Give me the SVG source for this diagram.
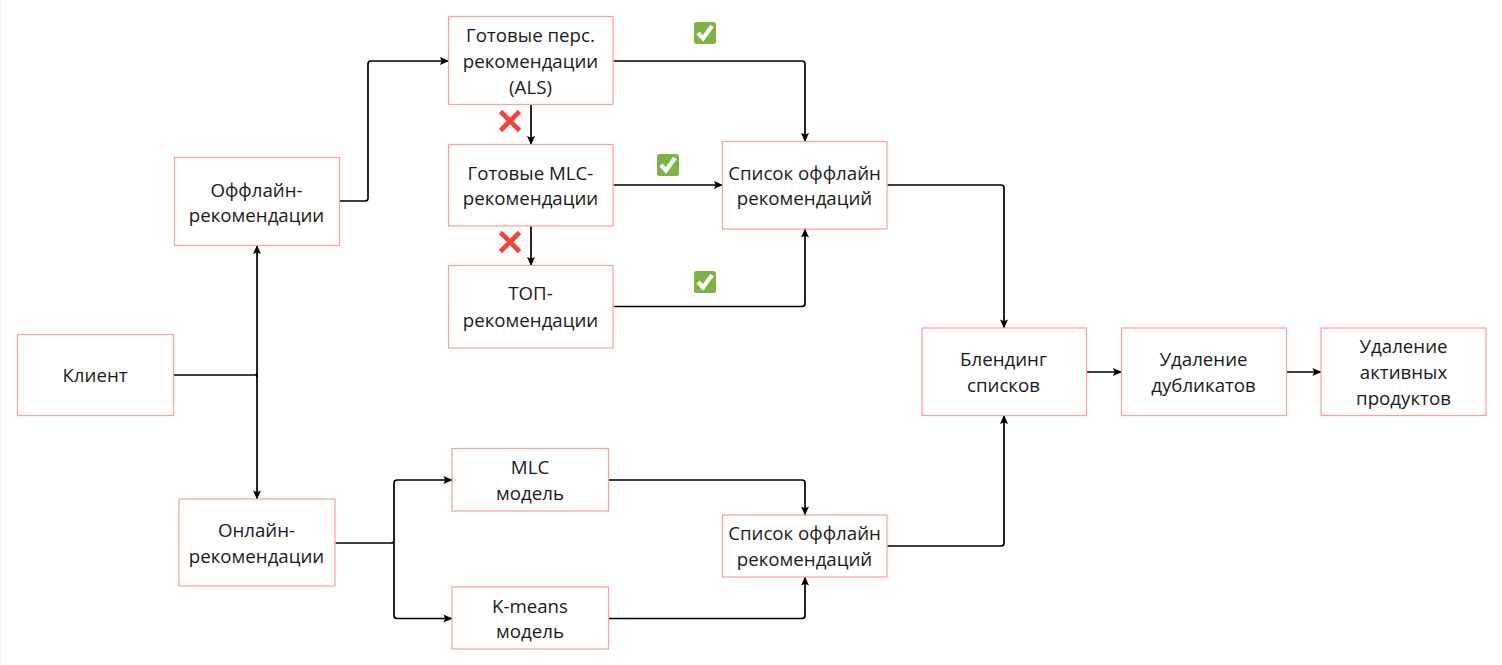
<svg xmlns="http://www.w3.org/2000/svg" width="1502" height="665" viewBox="0 0 1502 665">
<style>
.b{fill:#fff;stroke:#ff9c9c;stroke-width:1.2}
.t{font-family:"Open Sans",sans-serif;font-size:18.7px;fill:#1a1a1a;text-anchor:middle}
.c{fill:none;stroke:#000;stroke-width:1.7;stroke-linejoin:round;marker-end:url(#a)}
.n{fill:none;stroke:#000;stroke-width:1.7}
.ok{fill:#7cb342}
.okm{fill:none;stroke:#fff;stroke-width:4.2}
.no{stroke:#f44336;stroke-width:4.6;fill:none}
</style>
<defs>
<marker id="a" viewBox="0 0 9 9" refX="8.6" refY="4.500" markerWidth="9" markerHeight="9" markerUnits="userSpaceOnUse" orient="auto"><path d="M0 0.500L9 4.500L0 8.500L1.800 4.500Z" fill="#000"/></marker>
<g id="okI"><rect x="-11" y="-11" width="22" height="22" rx="2.500" class="ok"/><path d="M-7 0L-2 5.500L7 -7" class="okm"/></g>
<g id="noI"><path d="M-9.500 -9.500L9.500 9.500M9.500 -9.500L-9.500 9.500" class="no"/></g>
</defs>
<rect width="1502" height="665" fill="#fff"/>
<rect x="0" y="0" width="1" height="665" fill="#f3f3f3"/>
<g id="connectors">
<path class="n" d="M174 375H255Q257 375 257 373V377"/>
<path class="c" d="M257 375V245.500"/>
<path class="c" d="M257 375V499"/>
<path class="c" d="M340 201H365Q368 201 368 198V64Q368 61 371 61H448.500"/>
<path class="c" d="M531 104V144.500"/>
<path class="c" d="M531 226V265.500"/>
<path class="c" d="M613.500 61H802Q805 61 805 64V141.500"/>
<path class="c" d="M613.500 185H722.500"/>
<path class="c" d="M613.500 306.500H802Q805 306.500 805 303.500V229"/>
<path class="c" d="M887.500 185H1001Q1004 185 1004 188V328"/>
<path class="n" d="M335.500 543H391Q394 543 394 541"/>
<path class="c" d="M394 543V483Q394 480 397 480H452"/>
<path class="c" d="M394 543V615.500Q394 618.500 397 618.500H452"/>
<path class="c" d="M609 480H802Q805 480 805 483V515"/>
<path class="c" d="M609 618.500H802Q805 618.500 805 615.500V577"/>
<path class="c" d="M887.500 546H1001Q1004 546 1004 543V415.500"/>
<path class="c" d="M1087 372H1121.500"/>
<path class="c" d="M1287 372H1321"/>
</g>
<g id="client"><rect class="b" x="17.500" y="334.500" width="156" height="81"/><text class="t" x="95" y="382">Клиент</text></g>
<g id="offline"><rect class="b" x="174.500" y="157.500" width="165" height="88"/><text class="t" x="256.500" y="197">Оффлайн-</text><text class="t" x="256.500" y="222">рекомендации</text></g>
<g id="online"><rect class="b" x="179" y="499" width="156" height="87"/><text class="t" x="256.500" y="537">Онлайн-</text><text class="t" x="256.500" y="563">рекомендации</text></g>
<g id="als"><rect class="b" x="448.500" y="16.500" width="164.500" height="88"/><text class="t" x="530.500" y="42">Готовые перс.</text><text class="t" x="530.500" y="68">рекомендации</text><text class="t" x="530.500" y="94">(ALS)</text></g>
<g id="mlcready"><rect class="b" x="448.500" y="144.500" width="164.500" height="81.500"/><text class="t" x="530.500" y="180">Готовые MLC-</text><text class="t" x="530.500" y="205">рекомендации</text></g>
<g id="top"><rect class="b" x="448.500" y="265.500" width="164.500" height="82.500"/><text class="t" x="530.500" y="300">ТОП-</text><text class="t" x="530.500" y="327">рекомендации</text></g>
<g id="list1"><rect class="b" x="722.500" y="141.500" width="164.500" height="87.500"/><text class="t" x="804.500" y="180">Список оффлайн</text><text class="t" x="804.500" y="205">рекомендаций</text></g>
<g id="mlcmodel"><rect class="b" x="452" y="448.500" width="156.500" height="62.500"/><text class="t" x="530" y="474">MLC</text><text class="t" x="530" y="500">модель</text></g>
<g id="kmeans"><rect class="b" x="452" y="587" width="156.500" height="62"/><text class="t" x="530" y="613">K-means</text><text class="t" x="530" y="638">модель</text></g>
<g id="list2"><rect class="b" x="722.500" y="515" width="164.500" height="62"/><text class="t" x="804.500" y="540">Список оффлайн</text><text class="t" x="804.500" y="566">рекомендаций</text></g>
<g id="blend"><rect class="b" x="922" y="328" width="164.500" height="87.500"/><text class="t" x="1003.500" y="366">Блендинг</text><text class="t" x="1003.500" y="392">списков</text></g>
<g id="dedup"><rect class="b" x="1121.500" y="328" width="165" height="87.500"/><text class="t" x="1203.500" y="366">Удаление</text><text class="t" x="1203.500" y="392">дубликатов</text></g>
<g id="active"><rect class="b" x="1321" y="328" width="165" height="87.500"/><text class="t" x="1403.500" y="353">Удаление</text><text class="t" x="1403.500" y="379">активных</text><text class="t" x="1403.500" y="405">продуктов</text></g>
<g id="marks">
<use href="#okI" x="705" y="33"/><use href="#okI" x="668" y="165"/><use href="#okI" x="705" y="282"/>
<use href="#noI" x="510" y="121"/><use href="#noI" x="510" y="242"/>
</g>
</svg>
